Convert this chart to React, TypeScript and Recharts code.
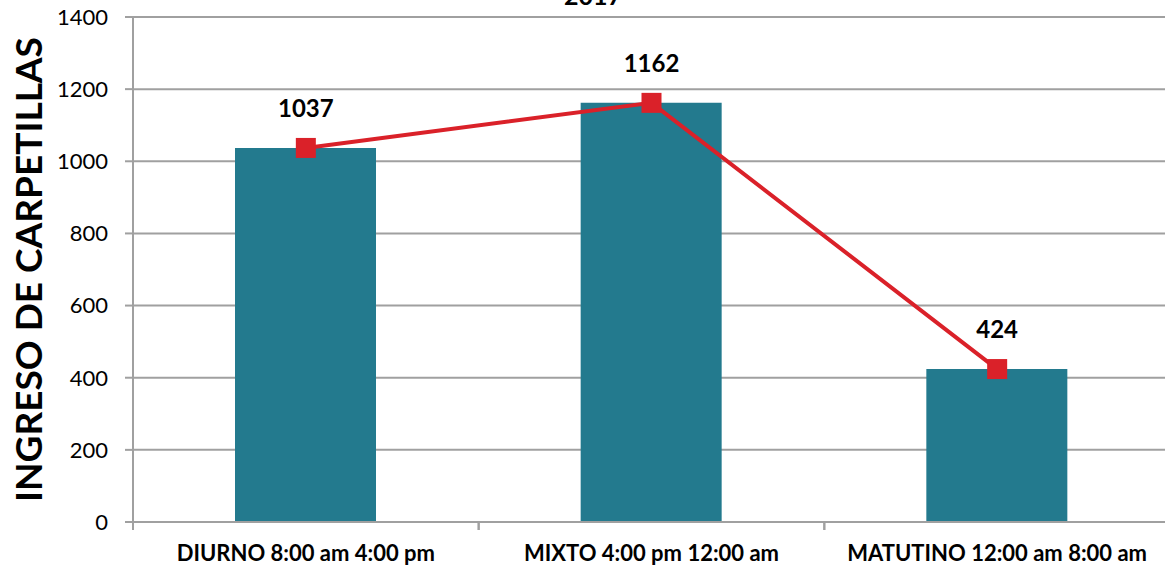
import React from 'react';
import { ComposedChart, Bar, Line, XAxis, YAxis, CartesianGrid, LabelList, Customized } from 'recharts';

const categories = ['DIURNO 8:00 am 4:00 pm', 'MIXTO 4:00 pm 12:00 am', 'MATUTINO 12:00 am 8:00 am'];
const values = [1037, 1162, 424];
const yTicks = [0, 200, 400, 600, 800, 1000, 1200, 1400];
const title = '2017';
const yLabel = 'INGRESO DE CARPETILLAS';

const data = categories.map((c, i) => ({ name: c, value: values[i] }));

const GRID = '#A0A0A0';
const BAR = '#237A8E';
const RED = '#DA2129';
const FONT = 'Lato, "Open Sans", sans-serif';

const XTick = (props: any) => {
  const { x, y, payload, width, visibleTicksCount } = props;
  const half = payload && typeof payload.offset === 'number' && payload.offset > 0
    ? payload.offset
    : width / (visibleTicksCount || 3) / 2;
  return (
    <g>
      <line x1={x - half} x2={x - half} y1={y} y2={y + 8} stroke={GRID} strokeWidth={2} />
      <line x1={x + half} x2={x + half} y1={y} y2={y + 8} stroke={GRID} strokeWidth={2} />
      <text x={x} y={y + 39} textAnchor="middle" fontFamily={FONT} fontWeight="bold" fontSize={22} fill="#000">
        {payload.value}
      </text>
    </g>
  );
};

const Square = (props: any) => {
  const { cx, cy, index } = props;
  if (cx == null || cy == null) return null;
  return <rect key={`sq-${index}`} x={cx - 10} y={cy - 10} width={20} height={20} fill={RED} />;
};

const YLabel = (props: any) => {
  const vb = props.viewBox || { x: 0, y: 17, width: 133, height: 505 };
  const cx = vb.x + 42;
  const cy = vb.y + vb.height / 2;
  return (
    <text
      x={0}
      y={0}
      transform={`translate(${cx},${cy}) rotate(-90)`}
      textAnchor="middle"
      fontFamily={FONT}
      fontWeight="bold"
      fontSize={37}
      fill="#000"
    >
      {yLabel}
    </text>
  );
};

const Title = () => (
  <text x={593} y={5} textAnchor="middle" fontFamily={FONT} fontWeight="bold" fontSize={25} fill="#000">
    {title}
  </text>
);

export default function App() {
  return (
    <div style={{ position: 'absolute', left: 0, top: 0, width: 1165, height: 567, overflow: 'hidden', background: '#fff' }}>
      <ComposedChart width={1172} height={567} data={data} margin={{ top: 17, right: 2, bottom: 0, left: 0 }}>
        <CartesianGrid vertical={false} stroke={GRID} strokeWidth={2} />
        <XAxis
          dataKey="name"
          height={45}
          axisLine={{ stroke: GRID, strokeWidth: 2 }}
          tickLine={false}
          tickSize={0}
          tickMargin={0}
          interval={0}
          tick={<XTick />}
        />
        <YAxis
          width={133}
          domain={[0, 1400]}
          ticks={yTicks}
          interval={0}
          axisLine={{ stroke: GRID, strokeWidth: 2 }}
          tickLine={{ stroke: GRID, strokeWidth: 2 }}
          tickSize={8}
          tickMargin={17}
          tick={{ fontFamily: FONT, fontSize: 22, fill: '#000' }}
          label={<YLabel />}
        />
        <Bar dataKey="value" fill={BAR} barSize={141} isAnimationActive={false} />
        <Line
          dataKey="value"
          stroke={RED}
          strokeWidth={4}
          dot={<Square />}
          activeDot={false}
          isAnimationActive={false}
        >
          <LabelList dataKey="value" position="top" offset={31} fontFamily={FONT} fontWeight="bold" fontSize={24} fill="#000" />
        </Line>
        <Customized component={<Title />} />
      </ComposedChart>
    </div>
  );
}
